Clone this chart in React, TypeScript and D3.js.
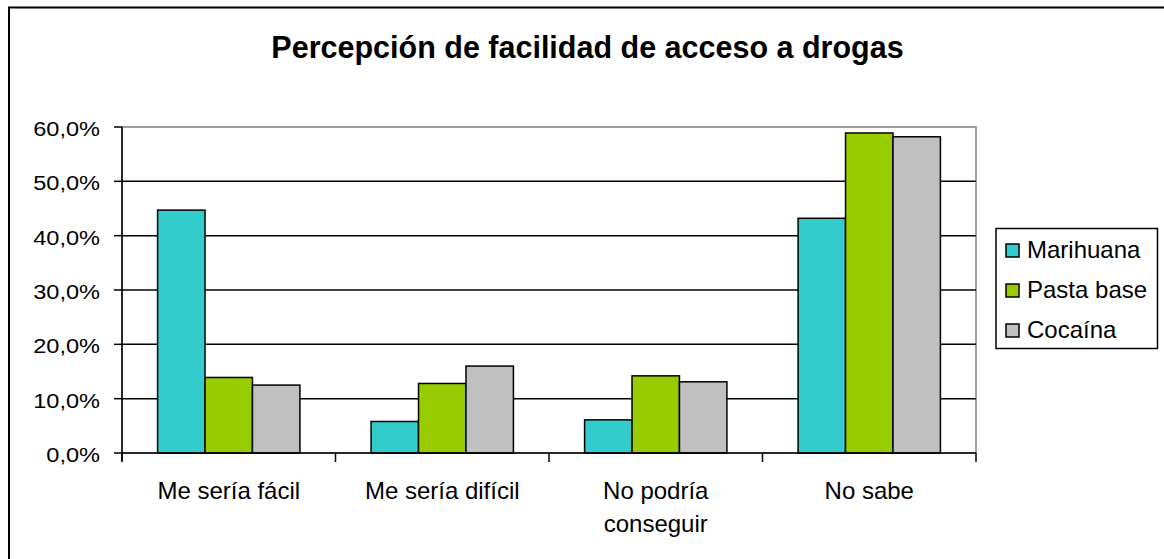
import React from "react";
import * as d3 from "d3";

const categories: string[][] = [
  ["Me sería fácil"],
  ["Me sería difícil"],
  ["No podría", "conseguir"],
  ["No sabe"],
];
const seriesNames = ["Marihuana", "Pasta base", "Cocaína"];
const marihuana = [44.7, 5.8, 6.1, 43.2];
const pastaBase = [13.9, 12.8, 14.2, 58.9];
const cocaina = [12.5, 16.0, 13.1, 58.2];
const seriesValues = [marihuana, pastaBase, cocaina];
const colors = ["#33CCCC", "#99CC00", "#C0C0C0"];
const yTicks = [0, 10, 20, 30, 40, 50, 60];
const title = "Percepción de facilidad de acceso a drogas";

const W = 1164;
const H = 559;
const plot = { left: 122, right: 976, top: 127, bottom: 453 };
const FONT = "'Liberation Sans', Arial, sans-serif";

export default function App() {
  const x0 = d3
    .scaleBand<number>()
    .domain(d3.range(categories.length))
    .range([plot.left, plot.right]);
  const cat = x0.bandwidth();
  const barW = cat / 4.5;
  const y = d3.scaleLinear().domain([0, 60]).range([plot.bottom, plot.top]);
  const fmt = (v: number) => v.toFixed(1).replace(".", ",") + "%";

  return (
    <svg
      width={W}
      height={H}
      style={{ position: "absolute", left: 0, top: 0, background: "#fff" }}
      fontFamily={FONT}
    >
      <rect x={0} y={0} width={W} height={H} fill="#fff" />
      <rect x={9} y={7.5} width={W + 20} height={H + 20} fill="none" stroke="#000" strokeWidth={2} />
      <text x={587.5} y={58.3} textAnchor="middle" fontSize={30.5} fontWeight="bold" fill="#000">
        {title}
      </text>

      {/* plot border (gray) */}
      <rect
        x={plot.left}
        y={plot.top}
        width={plot.right - plot.left}
        height={plot.bottom - plot.top}
        fill="#fff"
        stroke="#808080"
        strokeWidth={1.5}
      />

      {/* gridlines */}
      {yTicks
        .filter((t) => t > 0 && t < 60)
        .map((t) => (
          <line key={"g" + t} x1={plot.left} x2={plot.right} y1={y(t)} y2={y(t)} stroke="#000" strokeWidth={1.5} />
        ))}

      {/* bars */}
      {categories.map((_, i) =>
        seriesValues.map((vals, s) => {
          const bx = (x0(i) as number) + (cat - 3 * barW) / 2 + s * barW;
          return (
            <rect
              key={`b${i}-${s}`}
              x={bx}
              y={y(vals[i])}
              width={barW}
              height={plot.bottom - y(vals[i])}
              fill={colors[s]}
              stroke="#000"
              strokeWidth={1.5}
            />
          );
        })
      )}

      {/* axes */}
      <line x1={plot.left} x2={plot.left} y1={plot.top} y2={plot.bottom + 8} stroke="#000" strokeWidth={1.5} />
      <line x1={plot.left} x2={plot.right} y1={plot.bottom} y2={plot.bottom} stroke="#000" strokeWidth={1.5} />
      {yTicks.map((t) => (
        <g key={"t" + t}>
          <line x1={plot.left - 8} x2={plot.left} y1={y(t)} y2={y(t)} stroke="#000" strokeWidth={1.5} />
          <text
            transform={`translate(100,${y(t) + 9}) scale(1.15,1)`}
            textAnchor="end"
            fontSize={20.5}
            fill="#000"
          >
            {fmt(t)}
          </text>
        </g>
      ))}
      {d3.range(categories.length + 1).map((i) => {
        const xx = plot.left + i * cat;
        return <line key={"xt" + i} x1={xx} x2={xx} y1={plot.bottom} y2={plot.bottom + 9} stroke="#000" strokeWidth={1.5} />;
      })}
      {categories.map((lines, i) => (
        <text key={"c" + i} textAnchor="middle" fontSize={24} fill="#000">
          {lines.map((ln, k) => (
            <tspan key={k} x={(x0(i) as number) + cat / 2} y={499 + k * 33}>
              {ln}
            </tspan>
          ))}
        </text>
      ))}

      {/* legend */}
      <rect x={996} y={228.5} width={161.5} height={120} fill="#fff" stroke="#000" strokeWidth={1.5} />
      {seriesNames.map((n, s) => (
        <g key={"l" + s}>
          <rect x={1006} y={244 + s * 40} width={13} height={13} fill={colors[s]} stroke="#000" strokeWidth={1.5} />
          <text x={1027} y={258.3 + s * 40} fontSize={24} fill="#000">
            {n}
          </text>
        </g>
      ))}
    </svg>
  );
}
